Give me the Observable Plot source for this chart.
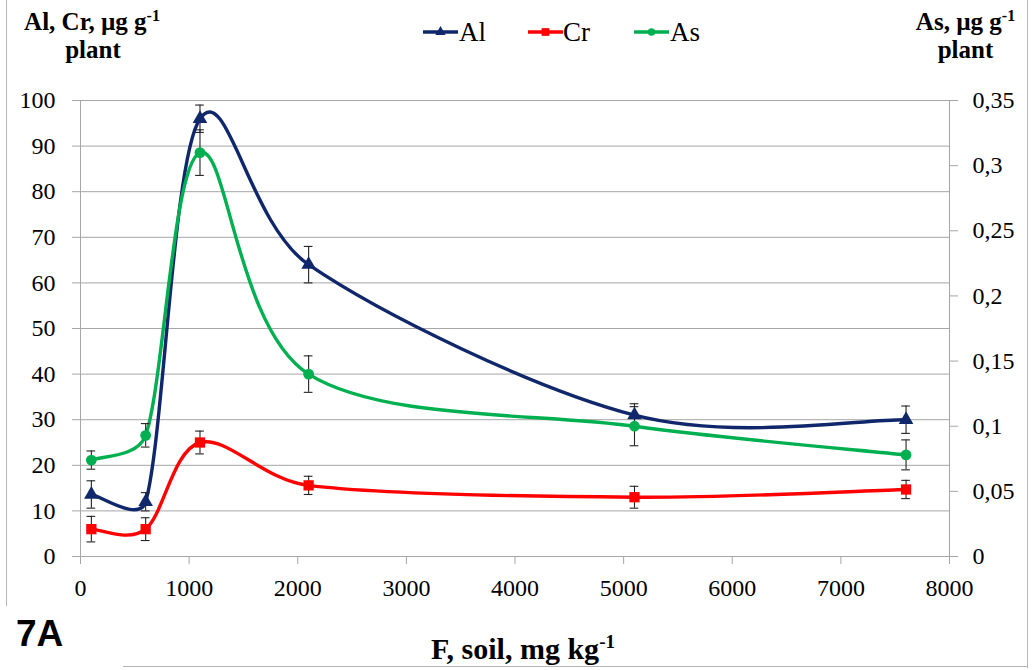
<!DOCTYPE html>
<html>
<head>
<meta charset="utf-8">
<script src="https://cdn.jsdelivr.net/npm/d3@7"></script>
<script src="https://cdn.jsdelivr.net/npm/@observablehq/plot@0.6"></script>
<style>
  html, body { margin: 0; padding: 0; background: #fff; }
  #wrap { position: relative; width: 1035px; height: 670px; overflow: hidden; font-family: 'Liberation Serif'; }
  #wrap * { font-family: 'Liberation Serif'; }
  #chart svg, #chart svg text { font-family: 'Liberation Serif' !important; }
  .bl { position: absolute; background: #b5b5b5; }
  #wrap #tag { position: absolute; left: 16px; top: 615px; font-family: 'Liberation Sans'; font-weight: bold; font-size: 37px; line-height: 37px; color: #000; }
  #chart { position: absolute; left: 0; top: 0; }
  .ttl { position: absolute; font-weight: bold; font-size: 25px; line-height: 25px; color: #000; text-align: center; white-space: nowrap; }
  .ttl sup { font-size: 16px; vertical-align: 9px; line-height: 0; }
  #ytl1 { left: 0px; top: 9px; width: 184px; }
  #ytl2 { left: 0px; top: 37px; width: 186px; }
  #ytr1 { left: 905px; top: 9px; width: 121px; }
  #ytr2 { left: 905px; top: 37px; width: 121px; }
  #xt { left: 323px; top: 634px; width: 400px; font-size: 30px; line-height: 30px; }
  #xt sup { font-size: 19px; vertical-align: 11px; }
  .lt { position: absolute; top: 19px; font-size: 27px; line-height: 27px; color: #000; }
  .ls { position: absolute; top: 22px; }
</style>
</head>
<body>
<div id="wrap">
  <div class="bl" style="left:6px; top:0; width:1px; height:606px"></div>
  <div class="bl" style="left:1027px; top:0; width:1px; height:668px"></div>
  <div class="bl" style="left:123px; top:666px; width:905px; height:1px"></div>
  <div id="chart"></div>
  <div id="tag">7A</div>
  <div class="ttl" id="ytl1">Al, Cr, µg g<sup>-1</sup></div>
  <div class="ttl" id="ytl2">plant</div>
  <div class="ttl" id="ytr1">As, µg g<sup>-1</sup></div>
  <div class="ttl" id="ytr2">plant</div>
  <div class="ttl" id="xt">F, soil, mg kg<sup>-1</sup></div>
  <div id="legend"></div>
</div>
<script>
// ---- data ----
const fSoil = [100, 600, 1100, 2100, 5100, 7600];
const alValues = [13.6, 12, 96, 64, 31, 30];
const alErr = [3, 2, 3, 4, 2.5, 3];
const crValues = [6, 6, 25, 15.6, 13, 14.7];
const crErr = [2.8, 2.5, 2.5, 2, 2.4, 2];
const asValues = [0.074, 0.093, 0.31, 0.14, 0.1, 0.078];
const asErr = [0.007, 0.009, 0.0175, 0.014, 0.015, 0.0115];
const xTicks = [0, 1000, 2000, 3000, 4000, 5000, 6000, 7000, 8000];
const yLeftTicks = [0, 10, 20, 30, 40, 50, 60, 70, 80, 90, 100];
const yRightTicks = [0, 0.05, 0.1, 0.15, 0.2, 0.25, 0.3, 0.35];
const seriesNames = ["Al", "Cr", "As"];
const seriesColors = ["#10286b", "#ff0000", "#00b050"];
const seriesSymbols = ["triangle", "square", "circle"];

// right axis max 0.35 maps to left 100
const ratio = 100 / 0.35;

const rows = [];
fSoil.forEach((x, i) => {
  rows.push({s: "Al", x, y: alValues[i], lo: alValues[i] - alErr[i], hi: alValues[i] + alErr[i]});
  rows.push({s: "Cr", x, y: crValues[i], lo: crValues[i] - crErr[i], hi: crValues[i] + crErr[i]});
  rows.push({s: "As", x, y: asValues[i] * ratio, lo: (asValues[i] - asErr[i]) * ratio, hi: (asValues[i] + asErr[i]) * ratio});
});

// spreadsheet-style smoothed line: Catmull-Rom Bezier arms, capped relative to segment length
function smoothCurve(context) {
  let pts = [];
  const k = 0.4;
  return {
    areaStart() {}, areaEnd() {},
    lineStart() { pts = []; },
    point(x, y) { pts.push([+x, +y]); },
    lineEnd() {
      const n = pts.length;
      if (!n) return;
      context.moveTo(pts[0][0], pts[0][1]);
      for (let i = 0; i < n - 1; i++) {
        const p0 = pts[Math.max(i - 1, 0)], p1 = pts[i], p2 = pts[i + 1], p3 = pts[Math.min(i + 2, n - 1)];
        const seg = Math.hypot(p2[0] - p1[0], p2[1] - p1[1]);
        let a = [(p2[0] - p0[0]) / 6, (p2[1] - p0[1]) / 6];
        let b = [(p3[0] - p1[0]) / 6, (p3[1] - p1[1]) / 6];
        const la = Math.hypot(a[0], a[1]), lb = Math.hypot(b[0], b[1]);
        if (la > k * seg) a = a.map(v => v * k * seg / la);
        if (lb > k * seg) b = b.map(v => v * k * seg / lb);
        context.bezierCurveTo(p1[0] + a[0], p1[1] + a[1], p2[0] - b[0], p2[1] - b[1], p2[0], p2[1]);
      }
    }
  };
}

const FF = "Liberation Serif";
const capHalf = 40;
const axisCol = "#a6a6a6";
const marks = [
  Plot.gridY(yLeftTicks, {stroke: axisCol, strokeOpacity: 1, strokeWidth: 1}),
  Plot.ruleX([0, 8000], {stroke: axisCol, strokeWidth: 1}),
  Plot.axisX(xTicks, {tickSize: 8, tickPadding: 14, stroke: axisCol, fill: "#000", fontSize: 24, fontFamily: FF, label: null, tickFormat: d => String(d)}),
  Plot.axisY(yLeftTicks, {anchor: "left", tickSize: 8, tickPadding: 17, stroke: axisCol, fill: "#000", fontSize: 24, fontFamily: FF, label: null}),
  Plot.axisY(yRightTicks.map(v => v * ratio), {anchor: "right", tickSize: 8, tickPadding: 15, stroke: axisCol, fill: "#000", fontSize: 24, fontFamily: FF, label: null,
    tickFormat: d => String(+(d / ratio).toFixed(2)).replace(".", ",")})
];
seriesNames.forEach((name, k) => {
  const data = rows.filter(r => r.s === name);
  marks.push(Plot.line(data, {x: "x", y: "y", curve: smoothCurve, stroke: seriesColors[k], strokeWidth: 3.4}));
});
seriesNames.forEach((name, k) => {
  const data = rows.filter(r => r.s === name);
  marks.push(Plot.ruleX(data, {x: "x", y1: "lo", y2: "hi", stroke: "#222", strokeWidth: 1.1}));
  marks.push(Plot.ruleY(data, {y: "lo", x1: d => d.x - capHalf, x2: d => d.x + capHalf, stroke: "#222", strokeWidth: 1.1}));
  marks.push(Plot.ruleY(data, {y: "hi", x1: d => d.x - capHalf, x2: d => d.x + capHalf, stroke: "#222", strokeWidth: 1.1}));
});
seriesNames.forEach((name, k) => {
  const data = rows.filter(r => r.s === name);
  marks.push(Plot.dot(data, {x: "x", y: "y", symbol: seriesSymbols[k], fill: seriesColors[k], stroke: "none", r: name === "Cr" ? 5.8 : 5.4}));
});

const chart = Plot.plot({
  width: 1035,
  height: 670,
  marginLeft: 80,
  marginRight: 86,
  marginTop: 100,
  marginBottom: 114,
  x: {domain: [0, 8000]},
  y: {domain: [0, 100]},
  style: {fontFamily: FF, fontSize: "24px", color: "#000", background: "transparent"},
  marks
});
document.getElementById("chart").appendChild(chart);

// legend
const leg = document.getElementById("legend");
const legLineX = [423, 528, 634];
const legTextX = [459, 563, 670];
const symSize = [45, 60, 45];
seriesNames.forEach((name, k) => {
  const sw = d3.create("svg").attr("class", "ls").attr("width", 36).attr("height", 20)
    .style("left", legLineX[k] + "px");
  sw.append("line").attr("x1", 0).attr("x2", 35).attr("y1", 10).attr("y2", 10).attr("stroke", seriesColors[k]).attr("stroke-width", 3.4);
  const sym = {triangle: d3.symbolTriangle, square: d3.symbolSquare, circle: d3.symbolCircle}[seriesSymbols[k]];
  sw.append("path").attr("transform", "translate(17.5,10)").attr("d", d3.symbol(sym, symSize[k])()).attr("fill", seriesColors[k]);
  leg.appendChild(sw.node());
  const t = document.createElement("div");
  t.className = "lt";
  t.style.left = legTextX[k] + "px";
  t.textContent = name;
  leg.appendChild(t);
});
</script>
</body>
</html>
